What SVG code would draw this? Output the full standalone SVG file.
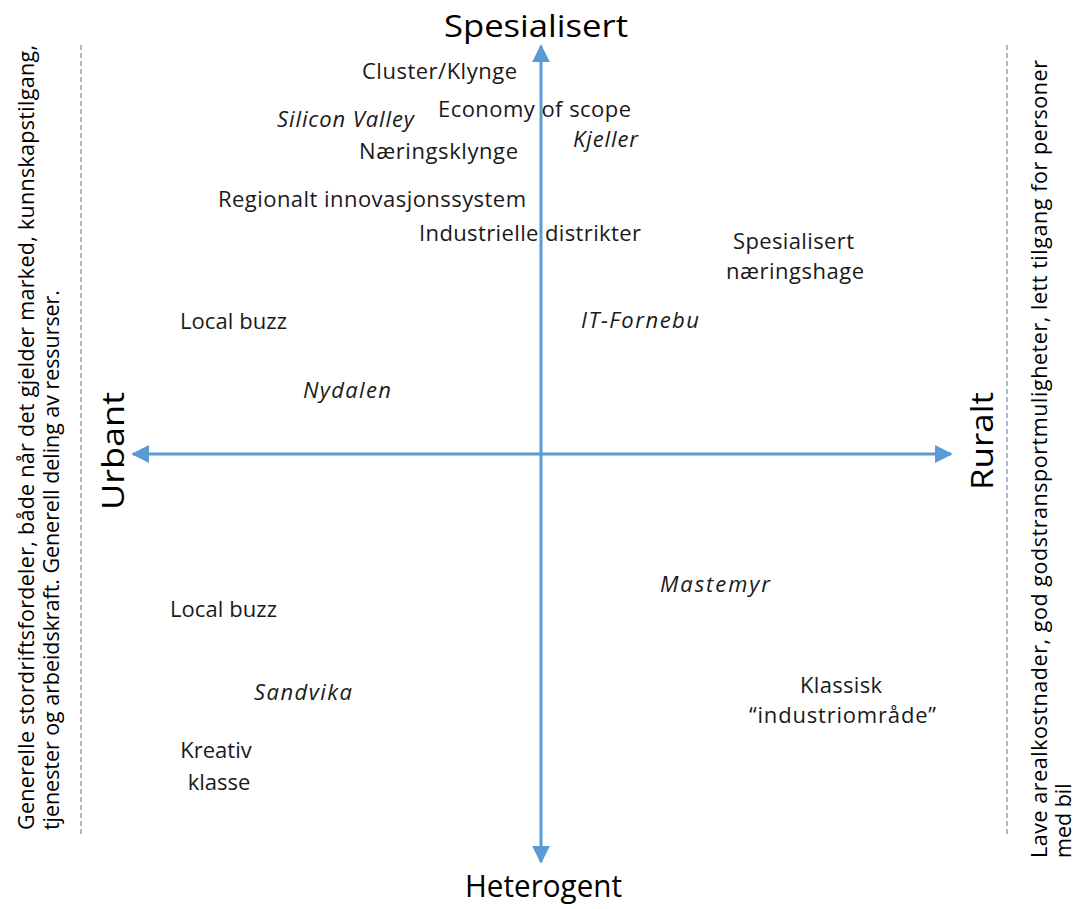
<svg xmlns="http://www.w3.org/2000/svg" width="1081" height="909" viewBox="0 0 1081 909">
<defs>
<style>
.t{font-family:"Open Sans","Liberation Sans",sans-serif;font-size:22px;fill:#1a1a1a}
.i{font-style:italic}
.ax{font-family:"Open Sans","Liberation Sans",sans-serif;font-size:31px;fill:#000}
.side{font-family:"Open Sans","Liberation Sans",sans-serif;font-size:21.5px;fill:#000}
.axis{stroke:#5B9BD5;stroke-width:3;fill:none}
.dash{stroke:#6E8BA8;stroke-width:1.2;stroke-dasharray:5 3;fill:none}
</style>
<marker id="ah" viewBox="0 0 10 10" refX="9" refY="5" markerWidth="6" markerHeight="6" markerUnits="strokeWidth" orient="auto">
<path d="M0,0 L10,5 L0,10 z" fill="#5B9BD5"/>
</marker>
</defs>
<rect width="1081" height="909" fill="#fff"/>
<g id="connectors">
<line class="axis" x1="541" y1="454" x2="541" y2="46" marker-end="url(#ah)"/>
<line class="axis" x1="541" y1="454" x2="541" y2="862" marker-end="url(#ah)"/>
<line class="axis" x1="541" y1="454" x2="133" y2="454" marker-end="url(#ah)"/>
<line class="axis" x1="541" y1="454" x2="951" y2="454" marker-end="url(#ah)"/>
<line class="dash" x1="81" y1="45" x2="81" y2="835"/>
<line class="dash" x1="1007" y1="45" x2="1007" y2="835"/>
</g>
<g id="axis-labels">
<text id="spesialisert" class="ax" x="444" y="37" textLength="184" lengthAdjust="spacingAndGlyphs">Spesialisert</text>
<text id="heterogent" class="ax" x="465" y="897" textLength="157" lengthAdjust="spacingAndGlyphs">Heterogent</text>
<text id="urbant" class="ax" transform="translate(124,510) rotate(-90)" textLength="118" lengthAdjust="spacingAndGlyphs">Urbant</text>
<text id="ruralt" class="ax" transform="translate(993,490) rotate(-90)" textLength="98" lengthAdjust="spacingAndGlyphs">Ruralt</text>
</g>
<g id="side-left">
<text class="side" transform="translate(34,830) rotate(-90)" textLength="785" lengthAdjust="spacing">Generelle stordriftsfordeler, både når det gjelder marked, kunnskapstilgang,</text>
<text class="side" transform="translate(59,830) rotate(-90)" textLength="540" lengthAdjust="spacing">tjenester og arbeidskraft. Generell deling av ressurser.</text>
</g>
<g id="side-right">
<text class="side" transform="translate(1047,858) rotate(-90)" textLength="798" lengthAdjust="spacing">Lave arealkostnader, god godstransportmuligheter, lett tilgang for personer</text>
<text class="side" transform="translate(1071,858) rotate(-90)">med bil</text>
</g>
<g id="n-cluster"><text class="t" x="362" y="79" textLength="155">Cluster/Klynge</text></g>
<g id="n-economy"><text class="t" x="438" y="117" textLength="193">Economy of scope</text></g>
<g id="n-silicon"><text class="t i" x="277" y="127" textLength="137">Silicon Valley</text></g>
<g id="n-kjeller"><text class="t i" x="573" y="147" textLength="65">Kjeller</text></g>
<g id="n-naeringsklynge"><text class="t" x="359" y="159" textLength="159">Næringsklynge</text></g>
<g id="n-regionalt"><text class="t" x="218" y="207" textLength="308">Regionalt innovasjonssystem</text></g>
<g id="n-industrielle"><text class="t" x="419" y="241" textLength="222">Industrielle distrikter</text></g>
<g id="n-spes-hage"><text class="t"><tspan x="733" y="249" textLength="121">Spesialisert</tspan><tspan x="726" y="279" textLength="138">næringshage</tspan></text></g>
<g id="n-localbuzz1"><text class="t" x="180" y="329" textLength="107">Local buzz</text></g>
<g id="n-itfornebu"><text class="t i" x="581" y="328" textLength="118">IT-Fornebu</text></g>
<g id="n-nydalen"><text class="t i" x="303" y="398" textLength="88">Nydalen</text></g>
<g id="n-mastemyr"><text class="t i" x="660" y="592" textLength="110">Mastemyr</text></g>
<g id="n-localbuzz2"><text class="t" x="170" y="617" textLength="107">Local buzz</text></g>
<g id="n-sandvika"><text class="t i" x="254" y="700" textLength="98">Sandvika</text></g>
<g id="n-klassisk"><text class="t"><tspan x="800" y="693" textLength="82">Klassisk</tspan><tspan x="749" y="723" textLength="187">“industriområde”</tspan></text></g>
<g id="n-kreativ"><text class="t" text-anchor="middle"><tspan x="216" y="758">Kreativ</tspan><tspan x="219" y="790">klasse</tspan></text></g>
</svg>
